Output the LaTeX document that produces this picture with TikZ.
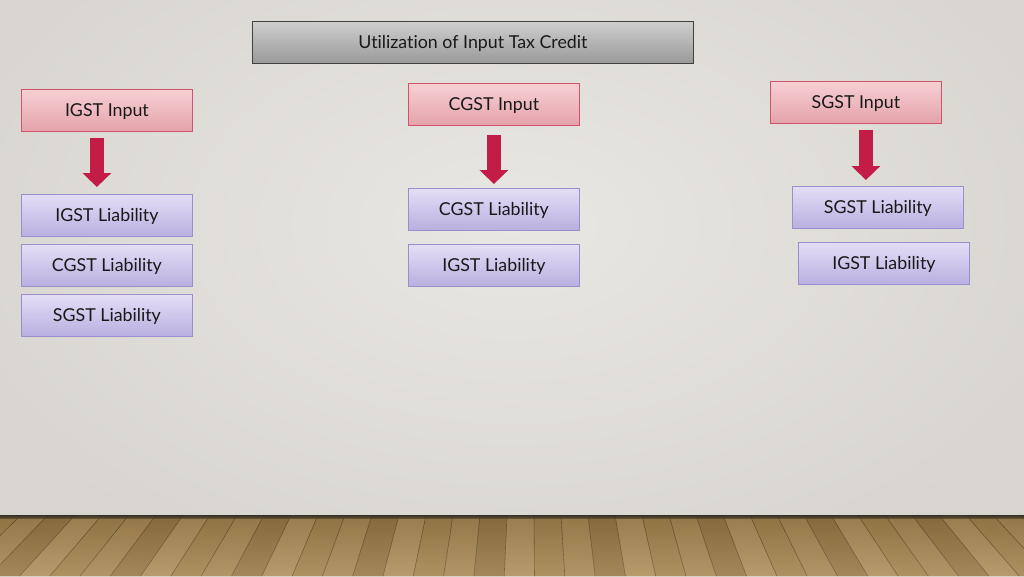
\documentclass[tikz,border=0pt]{standalone}
\usepackage{fontspec}
\setmainfont[Ligatures=NoCommon]{Lato}
\usetikzlibrary{arrows.meta}

\definecolor{wallgray}{HTML}{E9E7E3}
\definecolor{walledge}{HTML}{D8D5D0}
\definecolor{inputtop}{HTML}{F6D0D4}
\definecolor{inputbot}{HTML}{E5A2AB}
\definecolor{inputline}{HTML}{D0526B}
\definecolor{liabtop}{HTML}{E4DEF6}
\definecolor{liabbot}{HTML}{B9AFE0}
\definecolor{liabline}{HTML}{9A8ECC}
\definecolor{arrowred}{HTML}{C21C47}
\definecolor{wooda}{HTML}{A2834C}
\definecolor{woodb}{HTML}{AE8E59}
\definecolor{woodc}{HTML}{977844}
\definecolor{woodd}{HTML}{A88852}
\definecolor{woodline}{HTML}{6A5230}

\begin{document}
\begin{tikzpicture}[x=1pt,y=-1pt,
  box/.style={rectangle,draw,line width=0.8pt,minimum width=171pt,minimum height=42pt,inner sep=0pt,text depth=0pt,anchor=north west,font=\fontsize{17.8}{20}\selectfont,text=black!90},
  input/.style={box,top color=inputtop,bottom color=inputbot,draw=inputline},
  liability/.style={box,top color=liabtop,bottom color=liabbot,draw=liabline},
  title/.style={box,minimum width=441pt,minimum height=42pt,top color=black!19,bottom color=black!40,draw=black!75},
  inarrow/.style={draw=arrowred,line width=14pt,-{Triangle[width=28pt,length=14pt]},arrowred}]
% wall and floor
\useasboundingbox (0,0) rectangle (1024,576);
\shade[inner color=wallgray,outer color=walledge] (-100,-150) rectangle (1124,600);
\begin{scope}
  \clip (0,515) rectangle (1024,576);
  \foreach \px [count=\i] in {-87,-60,...,1100}{
    \pgfmathsetmacro{\qx}{\px+27}
    \pgfmathtruncatemacro{\k}{mod(\i*3,4)}
    \ifcase\k \def\plank{wooda}\or \def\plank{woodb}\or \def\plank{woodc}\else \def\plank{woodd}\fi
    \fill[\plank] (\px,515) -- (\qx,515) -- ({\qx+(\qx-530)*0.122},576) -- ({\px+(\px-530)*0.122},576) -- cycle;
    \draw[woodline,line width=0.6pt] (\px,515) -- ({\px+(\px-530)*0.122},576);
  }
  \shade[top color=black,bottom color=white,opacity=0.12] (0,515) rectangle (1024,576);
  \shade[top color=black!85,bottom color=woodc!60!black,opacity=0.85] (0,515) rectangle (1024,518);
\end{scope}

% boxes
\node[title] (util) at (252,21) {Utilization of Input Tax Credit};

\node[input] (igstin) at (21,89) {IGST Input};
\node[liability] (igstli) at (21,194) {IGST Liability};
\node[liability] (igstlc) at (21,244) {CGST Liability};
\node[liability] (igstls) at (21,294) {SGST Liability};

\node[input] (cgstin) at (408,83) {CGST Input};
\node[liability] (cgstlc) at (408,188) {CGST Liability};
\node[liability] (cgstli) at (408,244) {IGST Liability};

\node[input] (sgstin) at (770,81) {SGST Input};
\node[liability] (sgstls) at (792,186) {SGST Liability};
\node[liability] (sgstli) at (798,242) {IGST Liability};

% arrows
\draw[inarrow,shorten <=6pt,shorten >=7pt] ([xshift=-10pt]igstin.south) -- ([xshift=-10pt]igstin.south |- igstli.north);
\draw[inarrow,shorten <=9pt,shorten >=4pt] (cgstin.south) -- (cgstlc.north);
\draw[inarrow,shorten <=6pt,shorten >=6pt] ([xshift=10pt]sgstin.south) -- ([xshift=10pt]sgstin.south |- sgstls.north);
\end{tikzpicture}
\end{document}
